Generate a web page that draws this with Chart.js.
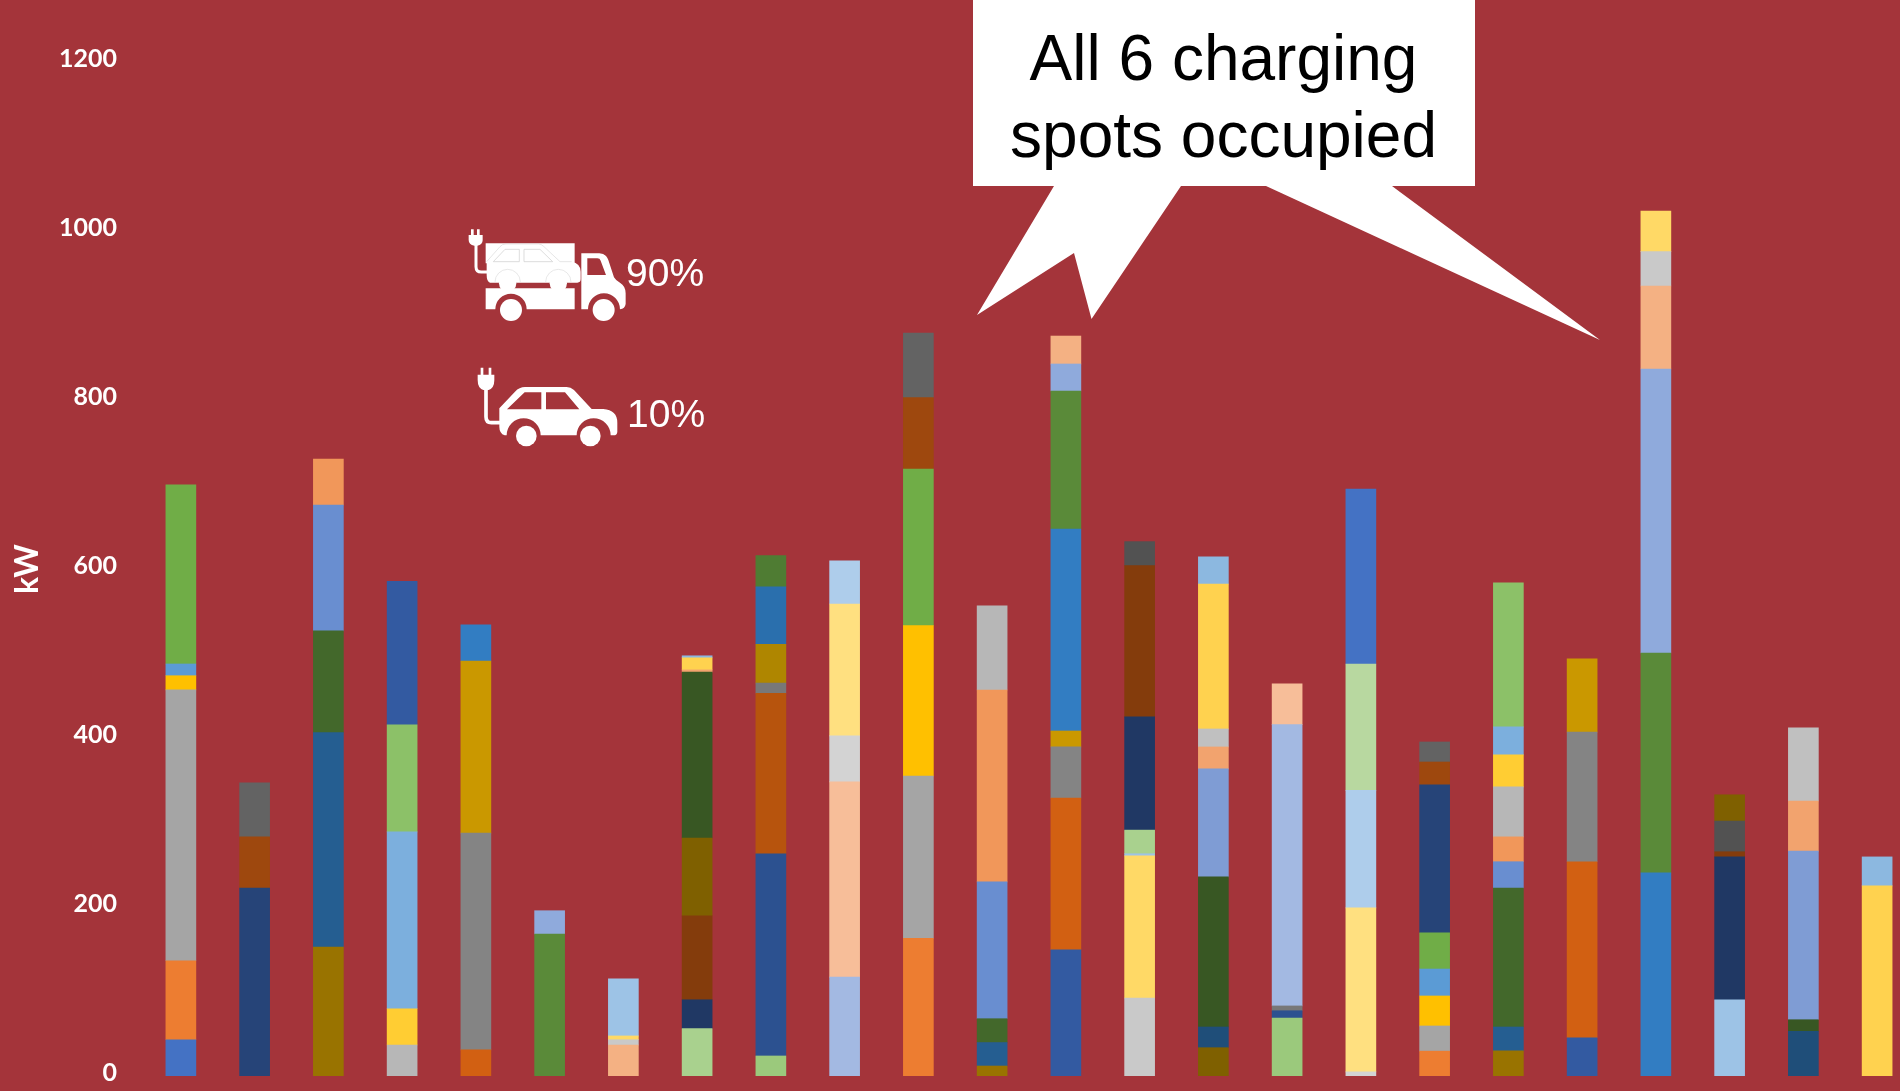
<!DOCTYPE html>
<html>
<head>
<meta charset="utf-8">
<title>Charging power per hour</title>
<script src="https://cdn.jsdelivr.net/npm/chart.js@4"></script>
<style>
    html, body { margin: 0; padding: 0; width: 1900px; height: 1091px; overflow: hidden; background: #A4343A; }
    #chart { position: absolute; left: 0; top: 0; }
    #overlay { position: absolute; left: 0; top: 0; }
</style>
</head>
<body>
<canvas id="chart" width="1914" height="1091"></canvas>

<!-- callout and vehicle icons sit on top of the chart -->
<svg id="overlay" width="1900" height="1091" viewBox="0 0 1900 1091" font-family="'Liberation Sans', Arial, sans-serif">
    <path fill="#fff" d="M973 0H1475V186H1392L1600 340L1266 186H1181L1091.5 319L1074 253L977 315L1054 186H973Z"/>
    <text x="1223.5" y="80" font-size="64" text-anchor="middle" fill="#000">All 6 charging</text>
    <text x="1223.5" y="157" font-size="64" text-anchor="middle" fill="#000">spots occupied</text>

    <g transform="translate(440 200) scale(0.3333)" fill="#fff">
        <!-- truck -->
        <path d="M93 88h8v18h-8zM111 88h8v18h-8z"/>
        <path d="M86 105H128V120Q128 134 112 137H103Q86 134 86 120Z"/>
        <path d="M108 130V200Q108 216 124 216H145" fill="none" stroke="#fff" stroke-width="9"/>
        <path d="M137 130H404V190H137Z"/>
        <path d="M137 265H404V328H260A47 47 0 0 0 166 328H137Z"/>
        <circle cx="213" cy="330" r="33"/>
        <path fill-rule="evenodd" d="M424 160H478Q498 160 505 180L522 232Q526 240 540 248Q557 258 557 280V312Q555 326 540 328A47 47 0 0 0 444 328H424ZM442 175V225H498L482 182Q480 175 472 175Z"/>
        <circle cx="491" cy="330" r="33"/>
        <path d="M140 185L180 140Q186 132 198 132H296Q304 132 312 140L360 185H395Q422 190 422 215V238Q422 248 412 248H150Q140 245 140 225Z"/>
        <circle cx="203" cy="250" r="26"/>
        <circle cx="355" cy="250" r="26"/>
        <path d="M165 246A38 38 0 0 1 241 246M317 246A38 38 0 0 1 393 246" fill="none" stroke="#ddd" stroke-width="2"/>
        <path d="M160 185L195 148H238V185ZM252 148H300L338 185H252Z" fill="#fff" stroke="#ccc" stroke-width="2"/>
        <path d="M140 185L180 140Q186 132 198 132H296Q304 132 312 140L360 185H395" fill="none" stroke="#ccc" stroke-width="1.5"/>

        <!-- car -->
        <path d="M122 503h8v22h-8zM146 503h8v22h-8z"/>
        <path d="M113 524H163V540Q163 564 146 570H130Q113 564 113 540Z"/>
        <path d="M138 565V650Q138 668 154 668H185" fill="none" stroke="#fff" stroke-width="11"/>
        <path fill-rule="evenodd" d="M178 625L225 575Q238 561 255 561H380Q392 561 402 570L455 627H490Q532 630 532 668V695Q532 706 520 706H512A51 51 0 0 0 410 706H302A51 51 0 0 0 200 706H194Q178 700 178 680ZM201 628H304V577H254ZM318 577V628H418L375 577Z"/>
        <circle cx="259" cy="708" r="31"/>
        <circle cx="451" cy="708" r="31"/>
    </g>
    <text x="626" y="286" font-size="39" fill="#fff">90%</text>
    <text x="627" y="427" font-size="39" fill="#fff">10%</text>
</svg>

<script>
// ore / sessioni sull'asse x (etichette non visibili)
const categories = ['1','2','3','4','5','6','7','8','9','10','11','12','13','14','15','16','17','18','19','20','21','22','23','24'];
const yTicks = [0, 200, 400, 600, 800, 1000, 1200];

// kW of each session stacked in a bar, bottom to top
const segmentKw = [
    [42.9, 93.5, 320.5, 16.8, 13.9, 211.9],
    [222.5, 60.5, 64],
    [152.7, 253.6, 120.4, 149, 54.4],
    [36.7, 42.9, 209.4, 126.7, 169.8],
    [31, 256.5, 203.5, 43],
    [168, 27.6],
    [36.7, 6.2, 4.5, 67.7],
    [56, 34.2, 99.3, 92.2, 196.3, 2.6, 14.3, 2.4],
    [23.7, 239.3, 190, 12, 46, 68, 36.8],
    [117, 231, 54.6, 156, 51],
    [163, 192, 178, 185.3, 84.5, 76.5],
    [11.8, 27.8, 28.2, 162, 227, 99.6],
    [149.4, 179.6, 60.5, 18.8, 239, 163.4, 31.9, 33.1],
    [92.3, 168.2, 2.5, 28, 134, 179, 28.4],
    [33.5, 24.5, 177.6, 127.8, 26, 21.3, 171.5, 32.2],
    [68.6, 8.6, 5.7, 333, 48.3],
    [4.9, 194, 139.1, 149.5, 207.2],
    [29.4, 29.8, 35.5, 31.9, 42.9, 175.1, 27, 23.7],
    [29.8, 28.2, 164.5, 31.1, 29.4, 59.2, 37.8, 33.2, 170.3],
    [45.3, 208.3, 153.4, 86.7],
    [240.5, 260.1, 336.1, 98.2, 40.6, 48.2],
    [90.2, 169.1, 6.1, 36.4, 31],
    [53, 13.6, 199.6, 59.2, 86.6],
    [225, 34.3]
];

// same shape as segmentKw
const segmentColors = [
    ['#4472C4', '#ED7D31', '#A5A5A5', '#FFC000', '#5B9BD5', '#70AD47'],
    ['#264478', '#9E480E', '#636363'],
    ['#997300', '#255E91', '#43682B', '#698ED0', '#F1975A'],
    ['#B7B7B7', '#FFCD33', '#7CAFDD', '#8CC168', '#335AA1'],
    ['#D26012', '#848484', '#CA9800', '#327DC2'],
    ['#5A8A39', '#8FAADC'],
    ['#F4B183', '#C9C9C9', '#FFD966', '#9DC3E6'],
    ['#A9D18E', '#203864', '#843C0C', '#7F6000', '#385723', '#F2A36E', '#FFD24F', '#8CB8E0'],
    ['#9BC97C', '#2C5190', '#B7540D', '#787878', '#AF8600', '#2A6FAD', '#4F7C33'],
    ['#A3B9E2', '#F7BE99', '#D3D3D3', '#FFE080', '#AECDEB'],
    ['#ED7D31', '#A5A5A5', '#FFC000', '#70AD47', '#9E480E', '#636363'],
    ['#997300', '#255E91', '#43682B', '#698ED0', '#F1975A', '#B7B7B7'],
    ['#335AA1', '#D26012', '#848484', '#CA9800', '#327DC2', '#5A8A39', '#8FAADC', '#F4B183'],
    ['#C9C9C9', '#FFD966', '#9DC3E6', '#A9D18E', '#203864', '#843C0C', '#525252'],
    ['#7F6000', '#1F4E79', '#385723', '#7F9CD4', '#F2A36E', '#C0C0C0', '#FFD24F', '#8CB8E0'],
    ['#9BC97C', '#2C5190', '#787878', '#A3B9E2', '#F7BE99'],
    ['#D3D3D3', '#FFE080', '#AECDEB', '#B8D8A0', '#4472C4'],
    ['#ED7D31', '#A5A5A5', '#FFC000', '#5B9BD5', '#70AD47', '#264478', '#9E480E', '#636363'],
    ['#997300', '#255E91', '#43682B', '#698ED0', '#F1975A', '#B7B7B7', '#FFCD33', '#7CAFDD', '#8CC168'],
    ['#335AA1', '#D26012', '#848484', '#CA9800'],
    ['#327DC2', '#5A8A39', '#8FAADC', '#F4B183', '#C9C9C9', '#FFD966'],
    ['#9DC3E6', '#203864', '#843C0C', '#525252', '#7F6000'],
    ['#1F4E79', '#385723', '#7F9CD4', '#F2A36E', '#C0C0C0'],
    ['#FFD24F', '#8CB8E0']
];

const slotCount = Math.max(...segmentKw.map(row => row.length));
const datasets = [];
for (let slot = 0; slot < slotCount; slot++) {
    datasets.push({
        label: 'Session ' + (slot + 1),
        data: segmentKw.map(row => row[slot] ?? 0),
        backgroundColor: segmentColors.map(row => row[slot] ?? 'transparent'),
        borderWidth: 0,
        barThickness: 30
    });
}

new Chart(document.getElementById('chart'), {
    type: 'bar',
    data: { labels: categories, datasets: datasets },
    options: {
        responsive: false,
        animation: false,
        layout: { padding: { top: 62, bottom: 15, left: 0, right: 0 } },
        plugins: {
            legend: { display: false },
            title: { display: false },
            tooltip: { enabled: false }
        },
        scales: {
            x: {
                stacked: true,
                display: false,
                grid: { display: false }
            },
            y: {
                stacked: true,
                min: 0,
                max: 1200,
                afterBuildTicks: (scale) => { scale.ticks = yTicks.map(value => ({ value })); },
                // tick padding would otherwise push the plot bottom up
                afterFit: (scale) => {
                    scale.width = 144;
                    scale.paddingTop = 0;
                    scale.paddingBottom = 0;
                },
                border: { display: false },
                grid: { display: false, drawTicks: false },
                ticks: {
                    color: '#fff',
                    padding: 27,
                    labelOffset: -3,
                    callback: (value) => String(value),
                    font: { family: 'Lato', size: 25, weight: 'bold' }
                },
                title: {
                    display: true,
                    text: 'kW',
                    color: '#fff',
                    padding: { top: 8, bottom: 0 },
                    font: { family: 'Lato', size: 32, weight: 'bold' }
                }
            }
        }
    }
});
</script>
</body>
</html>
